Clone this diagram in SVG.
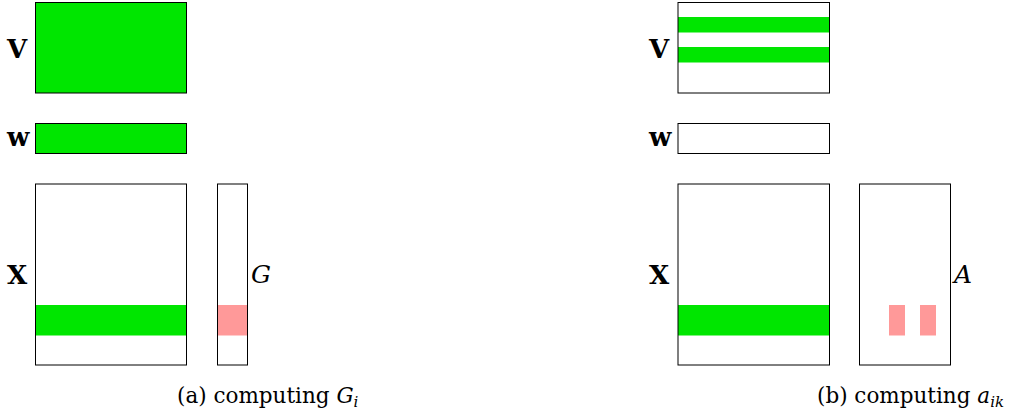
<svg xmlns="http://www.w3.org/2000/svg" width="1025" height="414" viewBox="0 0 1025 414">
<style>
.box{fill:none;stroke:#000;stroke-width:1}
.g{fill:#00e600}
.p{fill:#ff9999}
.lb{font-family:'DejaVu Serif',serif;font-weight:bold;font-size:26px;fill:#000}
.it{font-family:'DejaVu Serif',serif;font-style:italic;font-size:25px;fill:#000}
.cap{font-family:'DejaVu Serif',serif;font-size:21.5px;fill:#000}
.sub{font-style:italic;font-size:15px}
</style>
<rect width="1025" height="414" fill="#fff"/>
<g id="panel-a">
  <g id="a-V"><rect class="g" x="35.5" y="2.5" width="151" height="90.5"/><rect class="box" x="35.5" y="2.5" width="151" height="90.5"/><text class="lb" x="7" y="57.5">V</text></g>
  <g id="a-w"><rect class="g" x="35.5" y="123.5" width="151" height="30"/><rect class="box" x="35.5" y="123.5" width="151" height="30"/><text class="lb" x="7" y="146">w</text></g>
  <g id="a-X"><rect class="g" x="35.5" y="305" width="151" height="30.5"/><rect class="box" x="35.5" y="184" width="151" height="181"/><text class="lb" x="7" y="284">X</text></g>
  <g id="a-G"><rect class="p" x="217.5" y="305" width="30" height="30.5"/><rect class="box" x="217.5" y="184" width="30" height="181"/><text class="it" x="251" y="283">G</text></g>
  <text class="cap" x="177" y="403">(a) computing <tspan font-style="italic">G</tspan><tspan class="sub" dy="4">i</tspan></text>
</g>
<g id="panel-b">
  <g id="b-V"><rect class="g" x="678" y="17" width="151.5" height="15.5"/><rect class="g" x="678" y="47" width="151.5" height="15.5"/><rect class="box" x="678" y="2.5" width="151.5" height="90.5"/><text class="lb" x="649" y="57.5">V</text></g>
  <g id="b-w"><rect class="box" x="678" y="123.5" width="151.5" height="30"/><text class="lb" x="649" y="146">w</text></g>
  <g id="b-X"><rect class="g" x="678" y="305" width="151.5" height="30.5"/><rect class="box" x="678" y="184" width="151.5" height="181"/><text class="lb" x="649" y="284">X</text></g>
  <g id="b-A"><rect class="p" x="889" y="305" width="16" height="30.5"/><rect class="p" x="920" y="305" width="16" height="30.5"/><rect class="box" x="859.5" y="184" width="91" height="181"/><text class="it" x="954" y="283">A</text></g>
  <text class="cap" x="817" y="403">(b) computing <tspan font-style="italic">a</tspan><tspan class="sub" dy="4">ik</tspan></text>
</g>
</svg>
